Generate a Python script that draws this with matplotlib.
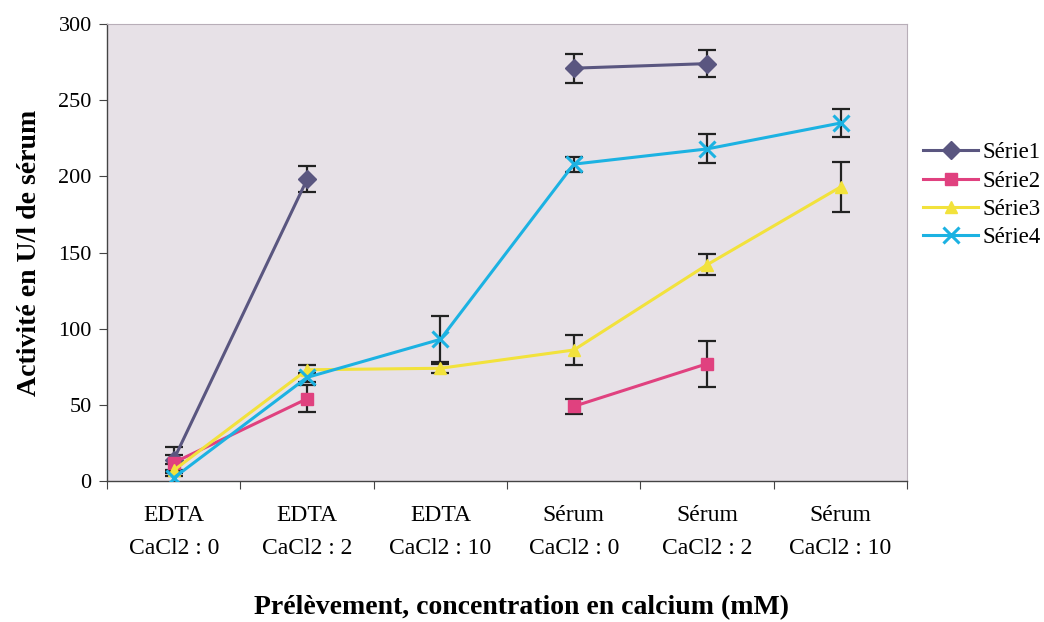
import numpy as np
import matplotlib
matplotlib.use("Agg")
import matplotlib.pyplot as plt

categories = ["EDTA\nCaCl2 : 0", "EDTA\nCaCl2 : 2", "EDTA\nCaCl2 : 10",
              "Sérum\nCaCl2 : 0", "Sérum\nCaCl2 : 2", "Sérum\nCaCl2 : 10"]

serie1 = [14, 198, np.nan, 271, 274, np.nan]
serie2 = [12, 54, np.nan, 49, 77, np.nan]
serie3 = [7, 73, 74, 86, 142, 193]
serie4 = [2, 68, 93, 208, 218, 235]

err1 = [8, 8.5, 0, 9.5, 9, 0]
err2 = [5, 9, 0, 5, 15, 0]
err3 = [4, 3, 3, 10, 7, 16.5]
err4 = [3, 3, 15, 5, 9.5, 9]

names = ["Série1", "Série2", "Série3", "Série4"]
colors = ["#5a5680", "#e0417f", "#f2e23c", "#1cb2e2"]
markers = ["D", "s", "^", "x"]

plt.rcParams['font.family'] = ['Liberation Serif', 'DejaVu Serif']

fig = plt.figure(figsize=(10.44, 6.22), dpi=100)
ax = fig.add_axes([0.1025, 0.2267, 0.7665, 0.7347])
ax.set_facecolor("#e7e1e7")

x = np.arange(len(categories)) + 0.5
series = [serie1, serie2, serie3, serie4]
errs = [err1, err2, err3, err4]
for vals, e, name, c, m in zip(series, errs, names, colors, markers):
    vals = np.array(vals, dtype=float)
    e = np.array(e, dtype=float)
    ax.errorbar(x, vals, yerr=e, fmt="none", ecolor="#222222", elinewidth=1.6,
                capsize=6.5, capthick=1.6, zorder=2)
    ms = 9 if m != "x" else 11
    ax.plot(x, vals, color=c, lw=2.2, marker=m, markersize=ms,
            markeredgewidth=2.2 if m == "x" else 1, markeredgecolor=c,
            label=name, zorder=3)

ax.set_xlim(0, 6)
ax.set_ylim(0, 300)
ax.set_yticks(np.arange(0, 301, 50))
ax.set_xticks(np.arange(0, 7))
ax.set_xticklabels([])
ax.set_xticks(x, minor=True)
ax.set_xticklabels(categories, minor=True, fontsize=17, linespacing=1.75)
ax.tick_params(axis="x", which="minor", length=0, pad=17)
ax.tick_params(axis="x", which="major", length=6, direction="out", color="#444444")
ax.tick_params(axis="y", length=6, direction="out", labelsize=16, pad=5, color="#444444")

for s in ["left", "bottom"]:
    ax.spines[s].set_color("#444444")
    ax.spines[s].set_linewidth(1.0)
for s in ["top", "right"]:
    ax.spines[s].set_color("#b8aeb8")
    ax.spines[s].set_linewidth(0.8)

ax.set_ylabel("Activité en U/l de sérum", fontsize=20, fontweight="bold", labelpad=12)
fig.text(0.5, 1 - 608 / 622, "Prélèvement, concentration en calcium (mM)",
         fontsize=20, fontweight="bold", ha="center", va="center")

ax.legend(loc="center left", bbox_to_anchor=(1.02, 0.625), frameon=False,
          fontsize=16.5, handlelength=2.4, labelspacing=0.32, handletextpad=0.2,
          borderaxespad=0, borderpad=0)

fig.savefig("out.png", dpi=100, facecolor="white")
